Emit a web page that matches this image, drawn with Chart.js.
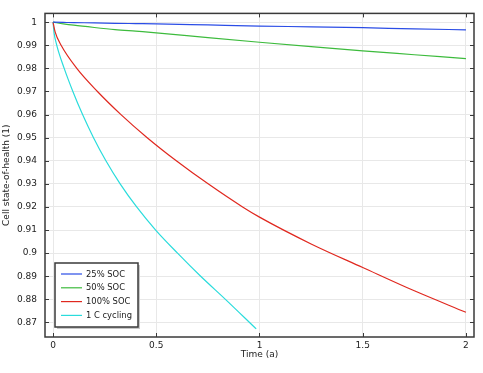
<!DOCTYPE html>
<html>
<head>
<meta charset="utf-8">
<script src="https://cdn.jsdelivr.net/npm/chart.js@4/dist/chart.umd.min.js"></script>
<style>
html, body { margin: 0; padding: 0; background: #fff; }
</style>
</head>
<body>
<canvas id="myChart" width="483" height="373"></canvas>
<script>
// values
const timeSoc = [0, 0.05, 0.1, 0.2, 0.3, 0.4, 0.5, 0.75, 1, 1.25, 1.5, 1.75, 2]
const soc25 = [1, 0.9999, 0.9998, 0.9997, 0.9995, 0.9994, 0.9993, 0.9988, 0.9983, 0.998, 0.9976, 0.9971, 0.9967]
const soc50 = [1, 0.9993, 0.9987, 0.9977, 0.9968, 0.9961, 0.9954, 0.9933, 0.9913, 0.9894, 0.9876, 0.9859, 0.9842]

const time100 = [0, 0.01, 0.039, 0.115, 0.215, 0.329, 0.456, 0.597, 0.751, 0.918, 1, 1.25, 1.5, 1.75, 2]
const soc100 = [1, 0.9958, 0.99, 0.98, 0.97, 0.96, 0.95, 0.94, 0.93, 0.92, 0.9156, 0.904, 0.8938, 0.8837, 0.8744]

const timeCycling = [0, 0.005, 0.018, 0.054, 0.096, 0.143, 0.196, 0.256, 0.325, 0.405, 0.497, 0.603, 0.715, 0.835, 0.984]
const cycling1C = [1, 0.9954, 0.99, 0.98, 0.97, 0.96, 0.95, 0.94, 0.93, 0.92, 0.91, 0.9, 0.89, 0.88, 0.8672]

const xTicks = [0, 0.5, 1, 1.5, 2]
const yTicks = [0.87, 0.88, 0.89, 0.9, 0.91, 0.92, 0.93, 0.94, 0.95, 0.96, 0.97, 0.98, 0.99, 1]

const seriesNames = ['25% SOC', '50% SOC', '100% SOC', '1 C cycling']
const seriesColors = ['#2b4de6', '#3dbb3d', '#e0281f', '#2adcdc']

function points (xs, ys) {
    return xs.map((x, i) => ({x: x, y: ys[i]}))
}

function makeDataSet (xs, ys, idx) {
    return {
        label: seriesNames[idx],
        data: points(xs, ys),
        borderColor: seriesColors[idx],
        borderWidth: 1.2,
        pointRadius: 0,
        fill: false,
        cubicInterpolationMode: 'monotone'
    }
}

const frameColor = '#3a3a3a'

// plot frame with inward ticks on all four sides
const framePlugin = {
    id: 'frame',
    afterDatasetsDraw (chart) {
        const {ctx, chartArea: a, scales} = chart
        ctx.save()
        ctx.strokeStyle = frameColor
        ctx.lineWidth = 1
        ctx.beginPath()
        for (const v of xTicks) {
            const px = Math.round(scales.x.getPixelForValue(v)) + 0.5
            ctx.moveTo(px, a.bottom); ctx.lineTo(px, a.bottom - 4)
            ctx.moveTo(px, a.top); ctx.lineTo(px, a.top + 4)
        }
        for (const v of yTicks) {
            const py = Math.round(scales.y.getPixelForValue(v)) + 0.5
            ctx.moveTo(a.left, py); ctx.lineTo(a.left + 4, py)
            ctx.moveTo(a.right, py); ctx.lineTo(a.right - 4, py)
        }
        ctx.stroke()
        ctx.lineWidth = 1.5
        ctx.strokeRect(a.left, a.top, a.right - a.left, a.bottom - a.top)
        ctx.restore()
    }
}

// boxed legend in the lower left corner of the plot
const boxLegend = {
    id: 'boxLegend',
    afterDraw (chart) {
        const {ctx, chartArea: a} = chart
        const bx = a.left + 10, by = a.bottom - 74, bw = 83, bh = 64
        ctx.save()
        ctx.fillStyle = '#c8c8c8'
        ctx.fillRect(bx + 2, by + 2, bw, bh)
        ctx.fillStyle = '#fff'
        ctx.fillRect(bx, by, bw, bh)
        ctx.strokeStyle = frameColor
        ctx.lineWidth = 1.5
        ctx.strokeRect(bx, by, bw, bh)
        ctx.font = '8.4px "DejaVu Sans"'
        ctx.textBaseline = 'middle'
        chart.data.datasets.forEach((ds, i) => {
            const y = by + 11 + i * 13.8
            ctx.strokeStyle = ds.borderColor
            ctx.lineWidth = 1.2
            ctx.beginPath()
            ctx.moveTo(bx + 6, y); ctx.lineTo(bx + 27, y)
            ctx.stroke()
            ctx.fillStyle = '#222'
            ctx.fillText(ds.label, bx + 31, y + 0.5)
        })
        ctx.restore()
    }
}

const tickFont = {family: 'DejaVu Sans', size: 9}
const gridColor = '#e8e8e8'

new Chart(document.getElementById('myChart').getContext('2d'), {
    type: 'line',
    data: {
        datasets: [
            makeDataSet(timeSoc, soc25, 0),
            makeDataSet(timeSoc, soc50, 1),
            makeDataSet(time100, soc100, 2),
            makeDataSet(timeCycling, cycling1C, 3)
        ]
    },
    options: {
        responsive: false,
        animation: false,
        layout: {padding: {top: 4, right: 9, left: 0, bottom: 0}},
        plugins: {legend: {display: false}, tooltip: {enabled: false}},
        scales: {
            x: {
                type: 'linear',
                min: -0.039,
                max: 2.039,
                afterBuildTicks: s => { s.ticks = xTicks.map(v => ({value: v})) },
                afterFit: s => { s.height = 36 },
                ticks: {
                    font: tickFont, color: '#222', padding: 3, maxRotation: 0,
                    callback: v => String(v)
                },
                grid: {color: gridColor, drawTicks: false},
                border: {display: false},
                title: {display: true, text: 'Time (a)', font: tickFont, color: '#222', padding: {top: 0, bottom: 13}}
            },
            y: {
                type: 'linear',
                min: 0.8637,
                max: 1.0038,
                afterBuildTicks: s => { s.ticks = yTicks.map(v => ({value: v})) },
                afterFit: s => { s.width = 45 },
                ticks: {
                    font: tickFont, color: '#222', padding: 8,
                    callback: v => String(+v.toFixed(2))
                },
                grid: {color: gridColor, drawTicks: false},
                border: {display: false},
                title: {display: true, text: 'Cell state-of-health (1)', font: tickFont, color: '#222', padding: {top: 1, bottom: 0}}
            }
        }
    },
    plugins: [framePlugin, boxLegend]
})
</script>
</body>
</html>
